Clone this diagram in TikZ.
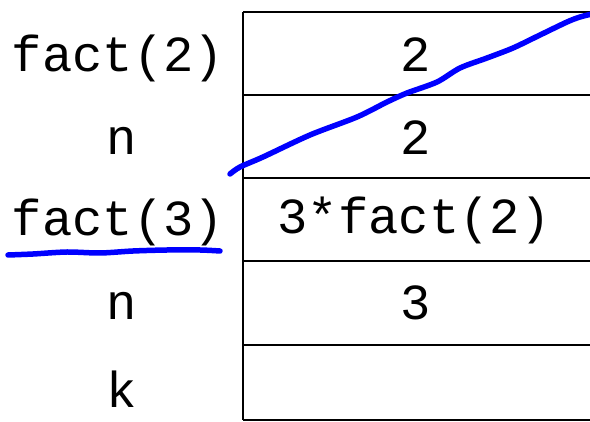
\documentclass[tikz,border=0pt]{standalone}
\usepackage{fontspec}
\setmonofont{Liberation Mono}
\begin{document}
\begin{tikzpicture}[x=1pt,y=-1pt,
  lbl/.style={font=\ttfamily\fontsize{50.5}{50.5}\selectfont, anchor=center, inner sep=0pt},
  grid/.style={line width=2.4pt, black},
  pen/.style={line width=5.5pt, blue, line cap=round, line join=round}]
\useasboundingbox (0,0) rectangle (590,422);
% table
\draw[grid] (243,12) -- (591,12);
\draw[grid] (243,95) -- (591,95);
\draw[grid] (243,178) -- (591,178);
\draw[grid] (243,261) -- (591,261);
\draw[grid] (243,345) -- (591,345);
\draw[grid] (243,420) -- (591,420);
\draw[grid] (243,12) -- (243,420);
% cell texts
\node[lbl] (c1) at (416,55) {2};
\node[lbl] (c2) at (416,138) {2};
\node[lbl] (c3) at (414,220) {3*fact(2)};
\node[lbl] (c4) at (416,303) {3};
% left labels
\node[lbl] (l1) at (118,58) {fact(2)};
\node[lbl] (l2) at (122,141) {n};
\node[lbl] (l3) at (118,222) {fact(3)};
\node[lbl] (l4) at (122,306) {n};
\node[lbl] (l5) at (122,389) {k};
% blue strokes
\draw[pen] plot[smooth] coordinates {(230,174) (240,167) (263,157) (310,135) (357,117) (387,102) (407,93) (437,82) (460,68) (487,58) (513,48) (540,35) (567,22) (580,17) (592,14)};
\draw[pen] plot[smooth] coordinates {(8,255) (33,254) (67,252) (100,253) (133,251) (167,250) (200,250) (220,251)};
\end{tikzpicture}
\end{document}
